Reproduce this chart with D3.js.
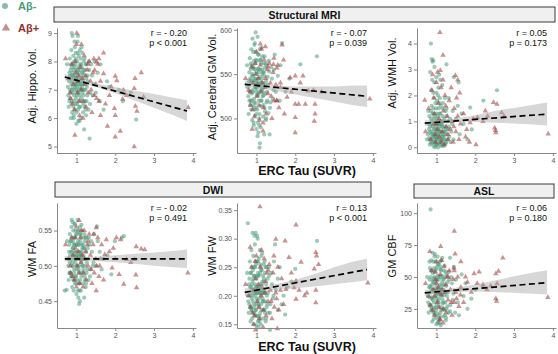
<!DOCTYPE html>
<html>
<head>
<meta charset="utf-8">
<script src="https://cdn.jsdelivr.net/npm/d3@7"></script>
<style>
  body { margin: 0; background: #fff; }
  svg { display: block; font-family: "Liberation Sans", Arial, sans-serif; }
</style>
</head>
<body>
<div id="chart"></div>
<script>
// shared x axis (ERC tau SUVR)
const xDomain = [0.5, 4.08];
const xTicks = [1, 2, 3, 4];

// ---- Adj. Hippo. Vol. ----
const hippoNeg = [
  [0.78,7.1],[0.82,7.6],[0.85,6.9],[0.88,7.8],[0.9,7.3],[0.92,8.2],[0.95,6.6],[0.97,7.5],[1.0,7.0],[1.02,8.0],[1.05,7.4],[1.08,6.8],[1.1,7.7],[1.12,7.2],[1.15,8.3],[1.18,6.5],[1.2,7.5],[1.23,7.0],[1.26,7.9],[1.3,7.3],
  [0.8,6.4],[0.83,8.1],[0.86,7.4],[0.89,6.2],[0.91,7.9],[0.94,7.0],[0.96,8.5],[0.99,6.7],[1.01,7.6],[1.04,6.3],[1.06,8.2],[1.09,7.1],[1.11,6.0],[1.14,7.8],[1.16,6.9],[1.19,8.0],[1.22,6.6],[1.25,7.4],[1.28,6.8],[1.33,7.7],
  [0.76,7.9],[0.84,6.7],[0.87,8.4],[0.93,6.1],[0.98,7.2],[1.03,8.7],[1.07,6.4],[1.13,7.0],[1.17,7.6],[1.21,8.1],[1.24,6.3],[1.27,7.1],[1.32,8.0],[1.36,6.9],[1.4,7.5],[1.44,7.2],[0.9,8.9],[0.95,8.7],[1.0,5.8],[1.05,5.9],
  [0.81,7.3],[0.85,7.7],[0.88,7.0],[0.92,7.5],[0.94,6.8],[0.97,7.9],[1.0,7.4],[1.02,6.5],[1.04,7.7],[1.07,7.3],[1.09,8.4],[1.12,6.7],[1.14,7.4],[1.17,6.2],[1.2,7.0],[1.22,7.7],[1.25,6.1],[1.29,7.5],[1.35,6.5],[1.38,7.9],
  [0.79,6.8],[0.83,7.0],[0.87,6.5],[0.9,7.1],[0.93,7.7],[0.96,6.3],[0.99,8.1],[1.01,7.1],[1.03,6.9],[1.06,7.6],[1.08,5.9],[1.1,7.9],[1.13,8.5],[1.15,7.1],[1.18,7.3],[1.21,6.4],[1.24,7.9],[1.26,6.6],[1.31,6.3],[1.42,6.8],
  [0.87,7.2],[0.89,7.5],[0.91,6.9],[0.93,7.4],[0.95,7.8],[0.97,7.1],[0.99,7.4],[1.01,6.8],[1.03,7.2],[1.05,7.8],[1.07,7.0],[1.09,7.5],[1.11,7.3],[1.13,6.6],[1.15,7.6],[1.17,7.2],[0.86,7.9],[0.88,6.6],[0.92,6.4],[0.94,8.0],
  [0.98,6.5],[1.0,7.7],[1.02,7.3],[1.04,8.3],[1.06,6.9],[1.1,6.4],[1.12,7.9],[1.16,7.0],[1.19,7.7],[0.84,7.5],[0.9,7.6],[0.96,7.2],[1.0,6.2],[1.06,6.6],[1.11,8.1],[1.18,6.8],[1.23,7.2],[0.82,6.6],[1.08,7.2],[0.98,8.3],
  [1.34,5.28],[2.54,5.95],[2.09,6.99],[1.79,7.3],[1.7,6.3],[1.55,7.6],[1.5,6.9],[1.62,7.9],[1.47,8.0],[0.93,6.0],[1.2,5.6],[1.6,6.6],[2.2,6.6],[1.85,7.1],[2.4,6.9],[0.88,9.0],[1.04,8.9],[0.86,6.0]
];
const hippoPos = [
  [0.72,8.1],[0.8,7.4],[0.85,6.7],[0.88,7.9],[0.92,7.2],[0.95,6.3],[0.98,7.6],[1.0,8.6],[1.02,6.9],[1.05,7.5],[1.08,6.1],[1.1,7.8],[1.12,7.0],[1.15,7.4],[1.18,6.6],[1.2,8.2],[1.22,7.2],[1.25,6.4],[1.28,7.7],[1.3,6.9],
  [1.33,8.0],[1.36,7.3],[1.4,6.2],[1.43,7.6],[1.46,6.8],[1.5,7.2],[1.55,7.9],[1.58,6.6],[1.62,7.3],[0.9,6.5],[0.97,8.0],[1.03,7.3],[1.07,6.6],[1.13,8.6],[1.17,6.0],[1.24,7.5],[1.3,7.9],[1.38,7.0],[1.45,8.1],[1.52,6.7],
  [0.96,5.4],[1.01,9.0],[0.84,6.9],
  [2.51,7.4],[2.67,7.6],[2.73,6.75],[2.49,7.05],[2.52,6.42],[2.56,6.25],[2.49,4.99],[2.13,5.54],[2.0,5.34],[1.8,5.72],[1.98,6.34],[2.0,6.1],[2.19,6.67],[2.04,7.32],[2.0,7.48],[1.7,8.3],[1.58,8.1],[1.52,7.98],
  [3.88,6.38],[2.21,6.99],[1.7,7.57],[1.47,7.69],[1.62,6.1],[1.85,6.8],[1.9,7.1],[2.3,6.8],[1.75,6.5]
];
const hippoFit = [[0.7,7.45],[3.85,6.25]];
const hippoBand = [[0.7,7.33,7.57],[1.0,7.28,7.4],[1.5,7.1,7.22],[2.0,6.88,7.1],[2.5,6.62,6.97],[3.0,6.37,6.85],[3.5,6.1,6.72],[3.85,5.9,6.63]];

// ---- Adj. Cerebral GM Vol. ----
const gmNeg = [
  [0.78,535],[0.82,552],[0.85,520],[0.88,560],[0.9,540],[0.92,575],[0.95,510],[0.97,545],[1.0,530],[1.02,565],[1.05,545],[1.08,505],[1.1,555],[1.12,532],[1.15,570],[1.18,515],[1.2,548],[1.23,528],[1.26,560],[1.3,538],
  [0.8,505],[0.83,568],[0.86,543],[0.89,498],[0.91,558],[0.94,522],[0.96,585],[0.99,512],[1.01,550],[1.04,495],[1.06,572],[1.09,536],[1.11,490],[1.14,555],[1.16,525],[1.19,562],[1.22,508],[1.25,542],[1.28,520],[1.33,553],
  [0.76,560],[0.84,515],[0.87,578],[0.93,492],[0.98,535],[1.03,592],[1.07,500],[1.13,540],[1.17,552],[1.21,570],[1.24,498],[1.27,530],[1.32,565],[1.36,518],[1.4,545],[1.44,532],[0.9,590],[0.95,583],[1.0,488],[1.05,484],
  [0.81,542],[0.85,556],[0.88,528],[0.92,548],[0.94,518],[0.97,562],[1.0,540],[1.02,510],[1.04,556],[1.07,538],[1.09,578],[1.12,520],[1.14,545],[1.17,502],[1.2,535],[1.22,557],[1.25,500],[1.29,547],[1.35,512],[1.38,558],
  [0.79,525],[0.83,530],[0.87,510],[0.9,532],[0.93,556],[0.96,503],[0.99,566],[1.01,534],[1.03,526],[1.06,552],[1.08,492],[1.1,566],[1.13,580],[1.15,533],[1.18,540],[1.21,512],[1.24,562],[1.26,518],[1.31,506],[1.42,522],
  [0.87,540],[0.89,548],[0.91,530],[0.93,543],[0.95,556],[0.97,535],[0.99,544],[1.01,526],[1.03,538],[1.05,556],[1.07,530],[1.09,547],[1.11,541],[1.13,520],[1.15,550],[1.17,538],[0.86,562],[0.88,520],[0.92,514],[0.94,565],
  [0.98,517],[1.0,553],[1.02,541],[1.04,572],[1.06,528],[1.1,514],[1.12,562],[1.16,530],[1.19,552],[0.84,545],[0.9,550],[0.96,537],[1.0,505],[1.06,520],[1.11,566],[1.18,526],[1.23,538],[0.82,520],[1.08,538],[0.98,575],
  [1.08,467],[1.09,472],[1.34,482],[1.66,585],[2.13,561],[2.56,570],[1.55,548],[1.5,530],[1.62,560],[1.47,572],[0.93,495],[1.2,482],[1.6,520],[1.85,545],[1.75,530],[0.98,597],[1.03,480],[1.45,555]
];
const gmPos = [
  [0.72,545],[0.8,532],[0.85,515],[0.88,558],[0.92,540],[0.95,502],[0.98,550],[1.0,575],[1.02,525],[1.05,545],[1.08,498],[1.1,560],[1.12,530],[1.15,540],[1.18,512],[1.2,566],[1.22,535],[1.25,505],[1.28,555],[1.3,528],
  [1.33,562],[1.36,540],[1.4,500],[1.43,552],[1.46,520],[1.5,538],[1.55,560],[1.58,512],[1.62,535],[0.9,510],[0.97,562],[1.03,538],[1.07,515],[1.13,578],[1.17,495],[1.24,545],[1.3,558],[1.38,525],[1.45,568],[1.52,520],
  [0.89,488],[1.17,486],[0.84,530],
  [2.0,484],[2.0,501],[2.49,497],[2.51,505],[2.51,516],[2.26,516],[2.09,516],[2.0,516],[1.53,520],[1.79,524],[1.62,540],[1.87,546],[2.0,548],[2.13,540],[1.53,557],[1.7,566],[1.44,561],[2.68,530],[2.47,532],[2.34,531],
  [3.92,522],[1.23,581],[1.66,583],[1.9,530],[2.2,548],[1.72,505],[1.1,584]
];
const gmFit = [[0.7,538.5],[3.85,525]];
const gmBand = [[0.7,534,543],[1.0,535,540],[1.5,531,537],[2.0,527,536],[2.5,523,536],[3.0,519,536],[3.5,515,537],[3.85,513,537]];

// ---- Adj. WMH Vol. ----
const wmhNeg = [
  [0.78,0.5],[0.82,1.2],[0.85,0.3],[0.88,1.6],[0.9,0.8],[0.92,2.1],[0.95,0.2],[0.97,1.0],[1.0,0.6],[1.02,1.8],[1.05,0.4],[1.08,1.3],[1.1,0.1],[1.12,0.9],[1.15,2.4],[1.18,0.5],[1.2,1.1],[1.23,0.3],[1.26,1.5],[1.3,0.7],
  [0.8,0.9],[0.83,0.1],[0.86,1.4],[0.89,2.6],[0.91,0.5],[0.94,1.1],[0.96,0.0],[0.99,1.5],[1.01,0.3],[1.04,2.0],[1.06,0.7],[1.09,0.2],[1.11,1.6],[1.14,0.4],[1.16,1.2],[1.19,0.05],[1.22,0.8],[1.25,0.2],[1.28,1.0],[1.33,0.4],
  [0.76,0.3],[0.84,2.9],[0.87,0.6],[0.93,0.05],[0.98,0.4],[1.03,1.2],[1.07,2.8],[1.13,0.6],[1.17,1.7],[1.21,0.1],[1.24,1.4],[1.27,0.5],[1.32,1.9],[1.36,0.2],[1.4,0.9],[1.44,0.3],[0.9,3.3],[0.95,3.1],[1.0,0.15],[1.05,2.3],
  [0.81,0.7],[0.85,0.2],[0.88,1.0],[0.92,0.4],[0.94,1.9],[0.97,0.25],[1.0,1.3],[1.02,0.5],[1.04,0.0],[1.07,0.9],[1.09,1.9],[1.12,0.3],[1.14,0.8],[1.17,0.1],[1.2,0.6],[1.22,1.9],[1.25,0.7],[1.29,0.3],[1.35,1.1],[1.38,0.6],
  [0.79,1.4],[0.83,0.6],[0.87,2.2],[0.9,0.35],[0.93,1.3],[0.96,0.7],[0.99,0.1],[1.01,0.9],[1.03,0.45],[1.06,1.5],[1.08,0.6],[1.1,2.6],[1.13,1.0],[1.15,0.25],[1.18,0.75],[1.21,0.45],[1.24,0.15],[1.26,1.2],[1.31,0.8],[1.42,1.4],
  [0.87,0.5],[0.89,0.9],[0.91,0.2],[0.93,0.7],[0.95,1.2],[0.97,0.4],[0.99,0.8],[1.01,0.1],[1.03,0.6],[1.05,1.0],[1.07,0.3],[1.09,0.8],[1.11,0.5],[1.13,0.05],[1.15,0.9],[1.17,0.4],[0.86,1.1],[0.88,0.15],[0.92,1.5],[0.94,0.55],
  [0.98,1.7],[1.0,0.35],[1.02,1.1],[1.04,0.7],[1.06,0.15],[1.1,1.3],[1.12,0.6],[1.16,1.5],[1.19,0.3],[0.84,0.8],[0.9,1.3],[0.96,0.45],[1.0,2.1],[1.06,0.9],[1.11,0.25],[1.18,1.0],[1.23,0.6],[0.82,0.35],[1.08,1.7],[0.98,0.9],
  [0.86,4.0],[0.88,3.4],[0.92,3.35],[1.26,3.2],[2.56,2.2],[2.21,1.8],[1.87,1.53],[1.57,2.5],[1.91,0.69],[1.5,1.1],[1.6,0.5],[1.7,0.9],[1.55,1.6],[1.45,2.7],[1.8,0.3],[1.65,1.3],[1.0,2.7],[0.95,2.5]
];
const wmhPos = [
  [0.72,0.6],[0.8,1.5],[0.85,0.3],[0.88,2.2],[0.92,0.9],[0.95,1.3],[0.98,0.2],[1.0,2.5],[1.02,0.7],[1.05,1.7],[1.08,0.4],[1.1,1.0],[1.12,2.3],[1.15,0.6],[1.18,1.4],[1.2,0.1],[1.22,2.0],[1.25,0.8],[1.28,1.2],[1.3,0.3],
  [1.33,1.8],[1.36,0.7],[1.4,1.0],[1.43,0.2],[1.46,1.5],[1.5,0.6],[1.55,1.2],[1.58,0.3],[1.62,0.9],[0.9,2.8],[0.97,0.5],[1.03,2.9],[1.07,1.1],[1.13,0.2],[1.17,2.6],[1.24,1.6],[1.3,0.5],[1.38,2.3],[1.45,0.8],[1.52,1.9],
  [0.93,1.9],[1.0,0.9],
  [1.09,4.43],[1.17,3.55],[1.1,2.96],[0.7,1.82],[1.49,2.77],[1.55,2.6],[2.47,1.73],[2.56,1.66],[2.26,1.4],[2.74,1.2],[2.5,0.75],[2.53,0.56],[2.52,0.65],[2.02,0.1],[1.78,0.69],[1.87,0.95],[3.88,0.52],[2.06,1.14],
  [2.32,1.2],[2.68,1.34],[1.95,1.1],[1.7,1.3],[1.75,0.4],[2.2,1.0],[1.6,2.1],[1.85,0.2]
];
const wmhFit = [[0.7,0.93],[3.85,1.28]];
const wmhBand = [[0.7,0.82,1.04],[1.0,0.92,1.02],[1.5,0.98,1.1],[2.0,0.98,1.24],[2.5,0.95,1.4],[3.0,0.92,1.52],[3.5,0.88,1.64],[3.85,0.84,1.73]];

// ---- WM FA ----
const faNeg = [
  [0.78,0.51],[0.82,0.53],[0.85,0.49],[0.88,0.54],[0.9,0.515],[0.92,0.55],[0.95,0.48],[0.97,0.52],[1.0,0.5],[1.02,0.545],[1.05,0.52],[1.08,0.475],[1.1,0.535],[1.12,0.505],[1.15,0.55],[1.18,0.49],[1.2,0.525],[1.23,0.5],[1.26,0.54],[1.3,0.51],
  [0.8,0.48],[0.83,0.545],[0.86,0.52],[0.89,0.47],[0.91,0.535],[0.94,0.495],[0.96,0.56],[0.99,0.485],[1.01,0.53],[1.04,0.465],[1.06,0.55],[1.09,0.51],[1.11,0.465],[1.14,0.53],[1.16,0.5],[1.19,0.54],[1.22,0.48],[1.25,0.52],[1.28,0.495],[1.33,0.53],
  [0.76,0.535],[0.84,0.49],[0.87,0.555],[0.93,0.465],[0.98,0.51],[1.03,0.565],[1.07,0.475],[1.13,0.515],[1.17,0.53],[1.21,0.545],[1.24,0.47],[1.27,0.505],[1.32,0.54],[1.36,0.495],[1.4,0.52],[1.44,0.505],[0.9,0.562],[0.95,0.558],[1.0,0.46],[1.05,0.455],
  [0.81,0.52],[0.85,0.535],[0.88,0.5],[0.92,0.525],[0.94,0.49],[0.97,0.54],[1.0,0.515],[1.02,0.48],[1.04,0.535],[1.07,0.515],[1.09,0.555],[1.12,0.49],[1.14,0.52],[1.17,0.475],[1.2,0.51],[1.22,0.535],[1.25,0.475],[1.29,0.525],[1.35,0.485],[1.38,0.535],
  [0.79,0.5],[0.83,0.505],[0.87,0.485],[0.9,0.505],[0.93,0.53],[0.96,0.475],[0.99,0.545],[1.01,0.51],[1.03,0.5],[1.06,0.53],[1.08,0.465],[1.1,0.545],[1.13,0.558],[1.15,0.51],[1.18,0.515],[1.21,0.485],[1.24,0.54],[1.26,0.49],[1.31,0.48],[1.42,0.5],
  [0.87,0.51],[0.89,0.52],[0.91,0.5],[0.93,0.515],[0.95,0.53],[0.97,0.505],[0.99,0.52],[1.01,0.495],[1.03,0.51],[1.05,0.53],[1.07,0.5],[1.09,0.52],[1.11,0.515],[1.13,0.485],[1.15,0.525],[1.17,0.51],[0.86,0.535],[0.88,0.485],[0.92,0.48],[0.94,0.54],
  [0.98,0.485],[1.0,0.53],[1.02,0.515],[1.04,0.55],[1.06,0.495],[1.1,0.48],[1.12,0.54],[1.16,0.5],[1.19,0.525],[0.84,0.515],[0.9,0.525],[0.96,0.51],[1.0,0.475],[1.06,0.49],[1.11,0.545],[1.18,0.495],[1.23,0.51],[0.82,0.49],[1.08,0.51],[0.98,0.55],
  [1.09,0.45],[1.07,0.446],[1.53,0.556],[2.22,0.542],[1.99,0.535],[1.9,0.488],[0.7,0.465],[0.75,0.466],[1.6,0.52],[1.5,0.5],[1.55,0.535],[1.45,0.545],[1.7,0.51],[1.65,0.495],[2.17,0.54],[1.8,0.515],[1.2,0.455],[0.88,0.565]
];
const faPos = [
  [0.72,0.53],[0.8,0.51],[0.85,0.49],[0.88,0.54],[0.92,0.515],[0.95,0.48],[0.98,0.525],[1.0,0.555],[1.02,0.5],[1.05,0.52],[1.08,0.475],[1.1,0.54],[1.12,0.505],[1.15,0.515],[1.18,0.49],[1.2,0.55],[1.22,0.51],[1.25,0.48],[1.28,0.53],[1.3,0.5],
  [1.33,0.545],[1.36,0.515],[1.4,0.475],[1.43,0.53],[1.46,0.49],[1.5,0.51],[1.55,0.54],[1.58,0.485],[1.62,0.51],[0.9,0.485],[0.97,0.54],[1.03,0.51],[1.07,0.49],[1.13,0.55],[1.17,0.47],[1.24,0.52],[1.3,0.535],[1.38,0.495],[1.45,0.545],[1.52,0.5],
  [1.07,0.5645],[1.0,0.47],[0.84,0.5],
  [2.03,0.54],[2.14,0.537],[2.54,0.527],[2.67,0.524],[2.76,0.523],[2.1,0.488],[2.22,0.474],[2.53,0.487],[2.55,0.469],[3.87,0.49],[2.5,0.509],[2.29,0.509],[1.92,0.497],[1.77,0.537],[1.51,0.554],[1.73,0.516],[1.51,0.465],
  [1.85,0.52],[1.65,0.53],[2.0,0.51],[1.7,0.48],[1.95,0.525],[2.4,0.505],[1.6,0.5]
];
const faFit = [[0.7,0.51],[3.85,0.51]];
const faBand = [[0.7,0.506,0.514],[1.0,0.508,0.512],[1.5,0.507,0.513],[2.0,0.505,0.515],[2.5,0.503,0.517],[3.0,0.5,0.519],[3.5,0.498,0.521],[3.85,0.497,0.523]];

// ---- WM FW ----
const fwNeg = [
  [0.78,0.2],[0.82,0.23],[0.85,0.18],[0.88,0.25],[0.9,0.21],[0.92,0.27],[0.95,0.17],[0.97,0.22],[1.0,0.195],[1.02,0.26],[1.05,0.215],[1.08,0.165],[1.1,0.24],[1.12,0.2],[1.15,0.275],[1.18,0.175],[1.2,0.225],[1.23,0.19],[1.26,0.25],[1.3,0.205],
  [0.8,0.17],[0.83,0.26],[0.86,0.215],[0.89,0.16],[0.91,0.245],[0.94,0.185],[0.96,0.29],[0.99,0.175],[1.01,0.235],[1.04,0.155],[1.06,0.265],[1.09,0.205],[1.11,0.15],[1.14,0.245],[1.16,0.19],[1.19,0.255],[1.22,0.17],[1.25,0.22],[1.28,0.185],[1.33,0.235],
  [0.76,0.24],[0.84,0.18],[0.87,0.28],[0.93,0.15],[0.98,0.205],[1.03,0.3],[1.07,0.16],[1.13,0.21],[1.17,0.235],[1.21,0.26],[1.24,0.155],[1.27,0.2],[1.32,0.25],[1.36,0.185],[1.4,0.22],[1.44,0.2],[0.9,0.31],[0.95,0.305],[1.0,0.148],[1.05,0.145],
  [0.81,0.22],[0.85,0.24],[0.88,0.195],[0.92,0.23],[0.94,0.18],[0.97,0.25],[1.0,0.215],[1.02,0.165],[1.04,0.24],[1.07,0.215],[1.09,0.28],[1.12,0.185],[1.14,0.22],[1.17,0.16],[1.2,0.205],[1.22,0.24],[1.25,0.16],[1.29,0.23],[1.35,0.17],[1.38,0.24],
  [0.79,0.19],[0.83,0.2],[0.87,0.175],[0.9,0.2],[0.93,0.235],[0.96,0.165],[0.99,0.255],[1.01,0.205],[1.03,0.19],[1.06,0.235],[1.08,0.155],[1.1,0.255],[1.13,0.27],[1.15,0.205],[1.18,0.21],[1.21,0.175],[1.24,0.25],[1.26,0.18],[1.31,0.17],[1.42,0.195],
  [0.87,0.205],[0.89,0.22],[0.91,0.19],[0.93,0.21],[0.95,0.235],[0.97,0.2],[0.99,0.215],[1.01,0.185],[1.03,0.205],[1.05,0.235],[1.07,0.195],[1.09,0.22],[1.11,0.21],[1.13,0.175],[1.15,0.225],[1.17,0.205],[0.86,0.24],[0.88,0.175],[0.92,0.17],[0.94,0.25],
  [0.98,0.175],[1.0,0.23],[1.02,0.21],[1.04,0.26],[1.06,0.185],[1.1,0.17],[1.12,0.245],[1.16,0.195],[1.19,0.23],[0.84,0.215],[0.9,0.225],[0.96,0.205],[1.0,0.165],[1.06,0.18],[1.11,0.25],[1.18,0.19],[1.23,0.205],[0.82,0.185],[1.08,0.205],[0.98,0.26],
  [0.78,0.327],[0.98,0.31],[2.56,0.296],[2.0,0.247],[1.74,0.167],[1.65,0.185],[1.55,0.23],[1.5,0.21],[1.6,0.25],[1.7,0.2],[1.45,0.26],[1.9,0.225],[1.8,0.215],[1.35,0.14],[1.02,0.305],[0.85,0.155],[1.55,0.175],[1.48,0.29]
];
const fwPos = [
  [0.72,0.22],[0.8,0.2],[0.85,0.18],[0.88,0.25],[0.92,0.21],[0.95,0.165],[0.98,0.23],[1.0,0.27],[1.02,0.19],[1.05,0.22],[1.08,0.16],[1.1,0.25],[1.12,0.2],[1.15,0.215],[1.18,0.175],[1.2,0.265],[1.22,0.205],[1.25,0.165],[1.28,0.24],[1.3,0.19],
  [1.33,0.255],[1.36,0.21],[1.4,0.16],[1.43,0.24],[1.46,0.18],[1.5,0.205],[1.55,0.25],[1.58,0.175],[1.62,0.21],[0.9,0.17],[0.97,0.26],[1.03,0.21],[1.07,0.18],[1.13,0.28],[1.17,0.145],[1.24,0.225],[1.3,0.245],[1.38,0.19],[1.45,0.27],[1.52,0.195],
  [0.93,0.15],[0.98,0.14],[0.84,0.285],
  [1.09,0.356],[2.02,0.324],[2.53,0.276],[2.55,0.27],[2.49,0.247],[2.15,0.259],[2.24,0.2],[2.02,0.194],[2.53,0.21],[2.53,0.188],[3.87,0.2225],[1.54,0.1425],[1.84,0.267],[1.74,0.296],[1.5,0.299],[2.02,0.226],[1.97,0.214],[1.76,0.211],
  [2.3,0.205],[1.65,0.23],[2.6,0.255],[1.9,0.24],[1.7,0.185],[2.1,0.21]
];
const fwFit = [[0.7,0.206],[3.85,0.246]];
const fwBand = [[0.7,0.199,0.213],[1.0,0.206,0.213],[1.5,0.211,0.22],[2.0,0.213,0.228],[2.5,0.216,0.238],[3.0,0.22,0.25],[3.5,0.224,0.26],[3.85,0.227,0.265]];

// ---- GM CBF ----
const cbfNeg = [
  [0.78,35],[0.82,48],[0.85,28],[0.88,55],[0.9,40],[0.92,62],[0.95,22],[0.97,45],[1.0,33],[1.02,58],[1.05,42],[1.08,18],[1.1,50],[1.12,36],[1.15,65],[1.18,25],[1.2,44],[1.23,30],[1.26,52],[1.3,38],
  [0.8,22],[0.83,57],[0.86,41],[0.89,15],[0.91,53],[0.94,30],[0.96,68],[0.99,24],[1.01,47],[1.04,14],[1.06,60],[1.09,37],[1.11,12],[1.14,51],[1.16,29],[1.19,55],[1.22,20],[1.25,43],[1.28,27],[1.33,48],
  [0.76,50],[0.84,27],[0.87,63],[0.93,17],[0.98,39],[1.03,66],[1.07,20],[1.13,40],[1.17,49],[1.21,59],[1.24,16],[1.27,35],[1.32,54],[1.36,28],[1.4,45],[1.44,37],[0.9,69],[0.95,66],[1.0,13],[1.05,15],
  [0.81,42],[0.85,50],[0.88,33],[0.92,46],[0.94,26],[0.97,54],[1.0,40],[1.02,21],[1.04,51],[1.07,39],[1.09,62],[1.12,26],[1.14,43],[1.17,19],[1.2,36],[1.22,50],[1.25,18],[1.29,46],[1.35,23],[1.38,50],
  [0.79,30],[0.83,34],[0.87,24],[0.9,34],[0.93,49],[0.96,20],[0.99,56],[1.01,36],[1.03,31],[1.06,48],[1.08,14],[1.1,56],[1.13,63],[1.15,35],[1.18,40],[1.21,24],[1.24,54],[1.26,25],[1.31,22],[1.42,32],
  [0.87,38],[0.89,44],[0.91,32],[0.93,40],[0.95,50],[0.97,35],[0.99,42],[1.01,28],[1.03,37],[1.05,50],[1.07,33],[1.09,44],[1.11,40],[1.13,24],[1.15,46],[1.17,38],[0.86,55],[0.88,25],[0.92,22],[0.94,57],
  [0.98,26],[1.0,48],[1.02,40],[1.04,60],[1.06,30],[1.1,22],[1.12,55],[1.16,32],[1.19,48],[0.84,43],[0.9,47],[0.96,38],[1.0,18],[1.06,27],[1.11,58],[1.18,30],[1.23,38],[0.82,28],[1.08,38],[0.98,62],
  [0.85,103],[1.6,40],[1.5,48],[1.55,30],[1.45,58],[1.7,35],[1.8,25],[1.65,52],[1.75,45],[2.0,40],[1.9,33],[1.48,22],[1.35,65],[0.82,62],[1.58,20],[2.2,42]
];
const cbfPos = [
  [0.72,45],[0.8,35],[0.85,28],[0.88,55],[0.92,40],[0.95,20],[0.98,48],[1.0,62],[1.02,30],[1.05,42],[1.08,17],[1.1,52],[1.12,36],[1.15,40],[1.18,25],[1.2,58],[1.22,38],[1.25,22],[1.28,50],[1.3,32],
  [1.33,55],[1.36,40],[1.4,20],[1.43,48],[1.46,30],[1.5,38],[1.55,50],[1.58,27],[1.62,36],[0.9,24],[0.97,54],[1.03,38],[1.07,26],[1.13,63],[1.17,14],[1.24,44],[1.3,50],[1.38,30],[1.45,57],[1.52,33],
  [1.1,16.6],[0.95,35],[1.0,45],
  [1.46,86],[1.11,74],[0.83,70],[1.48,68],[2.71,65],[2.6,54.5],[2.53,52.6],[2.1,54],[1.97,52.6],[2.56,44.7],[2.53,33],[2.55,31],[3.87,34],[1.8,46],[1.63,42],[1.63,62],[1.46,55],[2.2,44],
  [1.75,50],[2.4,43],[1.9,38],[2.05,45],[1.7,30],[2.3,40]
];
const cbfFit = [[0.7,37.6],[3.85,45.5]];
const cbfBand = [[0.7,35.3,40],[1.0,37,40],[1.5,38.4,41.5],[2.0,38.6,44.2],[2.5,38.2,47.3],[3.0,37.6,50.5],[3.5,36.8,53.5],[3.85,36.3,55.3]];

// panel setup (layout lives here, not in the data)
const W = 558, H = 354;
const colLeft = [57, 237, 417];
const plotW = 139;
const rows = [{ top: 28, bottom: 153 }, { top: 203, bottom: 328 }];

const panels = [
  { neg: hippoNeg, pos: hippoPos, fit: hippoFit, band: hippoBand, yDomain: [4.77, 9.18], yTicks: [5, 6, 7, 8, 9], fmt: d3.format('d'), label: 'Adj. Hippo. Vol.', labelY: 86, r: 'r = - 0.20', p: 'p < 0.001', col: 0, row: 0 },
  { neg: gmNeg, pos: gmPos, fit: gmFit, band: gmBand, yDomain: [461, 602], yTicks: [500, 550, 600], fmt: d3.format('d'), label: 'Adj. Cerebral GM Vol.', labelY: 87, r: 'r = - 0.07', p: 'p = 0.039', col: 1, row: 0 },
  { neg: wmhNeg, pos: wmhPos, fit: wmhFit, band: wmhBand, yDomain: [-0.22, 4.6], yTicks: [0, 1, 2, 3, 4], fmt: d3.format('d'), label: 'Adj. WMH Vol.', labelY: 73, r: 'r = 0.05', p: 'p = 0.173', col: 2, row: 0 },
  { neg: faNeg, pos: faPos, fit: faFit, band: faBand, yDomain: [0.412, 0.589], yTicks: [0.45, 0.50, 0.55], fmt: d3.format('.2f'), label: 'WM FA', labelY: 259, r: 'r = -  0.02', p: 'p = 0.491', col: 0, row: 1 },
  { neg: fwNeg, pos: fwPos, fit: fwFit, band: fwBand, yDomain: [0.1435, 0.3625], yTicks: [0.15, 0.20, 0.25, 0.30, 0.35], fmt: d3.format('.2f'), label: 'WM FW', labelY: 256, r: 'r = 0.13', p: 'p < 0.001', col: 1, row: 1 },
  { neg: cbfNeg, pos: cbfPos, fit: cbfFit, band: cbfBand, yDomain: [10, 108], yTicks: [25, 50, 75, 100], fmt: d3.format('d'), label: 'GM CBF', labelY: 256, r: 'r = 0.06', p: 'p = 0.180', col: 2, row: 1 }
];

const colors = {
  neg: '#4f9a7e',
  pos: '#9c3b3b',
  negLegend: '#8dbba8',
  posLegend: '#c58f90',
  negText: '#4b9a7a',
  posText: '#8e3131'
};

const svg = d3.select('#chart').append('svg')
  .attr('width', W)
  .attr('height', H);

// strip headers
const strips = [
  { label: 'Structural MRI', x0: 54, x1: 555, y0: 7, y1: 22 },
  { label: 'DWI', x0: 55, x1: 371, y0: 182, y1: 197 },
  { label: 'ASL', x0: 414, x1: 554, y0: 184, y1: 198 }
];
strips.forEach(s => {
  svg.append('rect')
    .attr('x', s.x0).attr('y', s.y0)
    .attr('width', s.x1 - s.x0).attr('height', s.y1 - s.y0)
    .attr('fill', '#f0f0f0')
    .attr('stroke', '#3a3a3a')
    .attr('stroke-width', 1);
  svg.append('text')
    .attr('x', (s.x0 + s.x1) / 2)
    .attr('y', (s.y0 + s.y1) / 2 + 4)
    .attr('text-anchor', 'middle')
    .style('font-size', '10.5px')
    .style('font-weight', 'bold')
    .attr('fill', '#111')
    .text(s.label);
});

const triangle = d3.symbol().type(d3.symbolTriangle).size(13);

panels.forEach(p => {
  const left = colLeft[p.col];
  const { top, bottom } = rows[p.row];
  const x = d3.scaleLinear().domain(xDomain).range([left, left + plotW]);
  const y = d3.scaleLinear().domain(p.yDomain).range([bottom, top]);
  const g = svg.append('g');

  // points
  g.selectAll('.neg')
    .data(p.neg)
    .enter().append('circle')
    .attr('class', 'neg')
    .attr('cx', d => x(d[0]))
    .attr('cy', d => y(d[1]))
    .attr('r', 2.1)
    .attr('fill', colors.neg)
    .attr('fill-opacity', 0.55);

  g.selectAll('.pos')
    .data(p.pos)
    .enter().append('path')
    .attr('class', 'pos')
    .attr('transform', d => `translate(${x(d[0])},${y(d[1])})`)
    .attr('d', triangle)
    .attr('fill', colors.pos)
    .attr('fill-opacity', 0.55);

  // confidence band + fit
  g.append('path')
    .datum(p.band)
    .attr('fill', '#a6a6a6')
    .attr('fill-opacity', 0.45)
    .attr('d', d3.area().x(d => x(d[0])).y0(d => y(d[1])).y1(d => y(d[2])));

  g.append('path')
    .datum(p.fit)
    .attr('fill', 'none')
    .attr('stroke', '#000')
    .attr('stroke-width', 1.7)
    .attr('stroke-dasharray', '6,3.5')
    .attr('d', d3.line().x(d => x(d[0])).y(d => y(d[1])));

  // axes
  const xAxis = g.append('g')
    .attr('transform', `translate(0,${bottom})`)
    .call(d3.axisBottom(x).tickValues(xTicks).tickFormat(d3.format('d')).tickSize(3).tickSizeOuter(0).tickPadding(2));
  const yAxis = g.append('g')
    .attr('transform', `translate(${left},0)`)
    .call(d3.axisLeft(y).tickValues(p.yTicks).tickFormat(p.fmt).tickSize(3).tickSizeOuter(0).tickPadding(2));
  [xAxis, yAxis].forEach(a => {
    a.select('.domain').attr('stroke', '#888').attr('stroke-width', 1);
    a.selectAll('.tick line').attr('stroke', '#888');
    a.selectAll('.tick text')
      .attr('fill', '#555')
      .style('font-size', '7px')
      .style('font-family', '"Liberation Sans", Arial, sans-serif');
  });

  // y title
  g.append('text')
    .attr('transform', `translate(${left - 21},${p.labelY}) rotate(-90)`)
    .attr('text-anchor', 'middle')
    .style('font-size', '11px')
    .attr('fill', '#111')
    .text(p.label);

  // r / p annotation
  const rx = left + plotW - 9;
  g.append('text')
    .attr('x', rx).attr('y', top + 7.5)
    .attr('text-anchor', 'end')
    .style('font-size', '9px')
    .attr('fill', '#111')
    .text(p.r);
  g.append('text')
    .attr('x', rx).attr('y', top + 17.5)
    .attr('text-anchor', 'end')
    .style('font-size', '9px')
    .attr('fill', '#111')
    .text(p.p);
});

// x titles
[175, 351].forEach(yy => {
  svg.append('text')
    .attr('x', 307).attr('y', yy)
    .attr('text-anchor', 'middle')
    .style('font-size', '12.5px')
    .style('font-weight', 'bold')
    .attr('fill', '#111')
    .text('ERC Tau (SUVR)');
});

// legend
svg.append('circle')
  .attr('cx', 5).attr('cy', 6).attr('r', 3)
  .attr('fill', colors.negLegend);
svg.append('text')
  .attr('x', 18).attr('y', 10)
  .style('font-size', '11px').style('font-weight', 'bold')
  .attr('fill', colors.negText)
  .text('Aβ-');
svg.append('path')
  .attr('transform', 'translate(6,28)')
  .attr('d', d3.symbol().type(d3.symbolTriangle).size(30))
  .attr('fill', colors.posLegend);
svg.append('text')
  .attr('x', 18).attr('y', 32)
  .style('font-size', '11px').style('font-weight', 'bold')
  .attr('fill', colors.posText)
  .text('Aβ+');
</script>
</body>
</html>
